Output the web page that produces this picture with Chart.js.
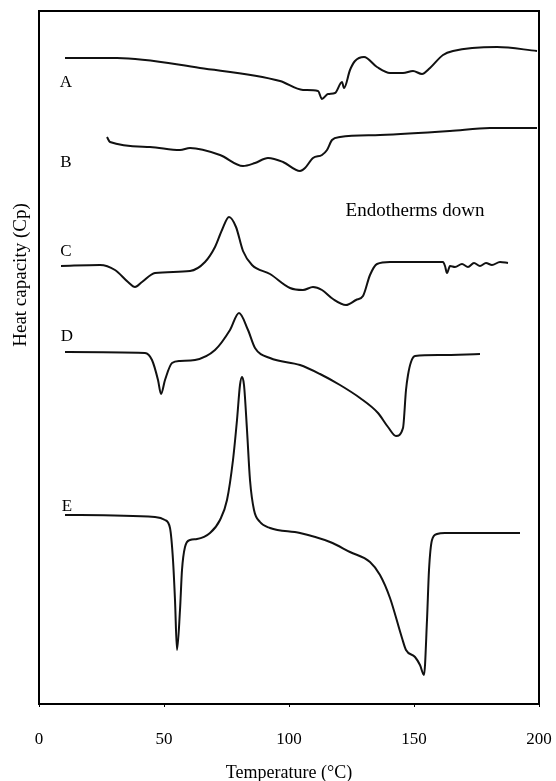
<!DOCTYPE html>
<html>
<head>
    <title>DSC curves</title>
    <script src="https://cdn.jsdelivr.net/npm/chart.js"></script>
    <style>
        body { margin: 0; background: #fff; }
    </style>
</head>
<body>
    <canvas id="chart" width="556" height="781"></canvas>

    <script>
        // temperatures (°C) and heat capacity (arbitrary, curves offset)
        const tempA = [10.4, 31.2, 64.4, 96.4, 105.6, 111.6, 113.2, 115.6, 118.4, 121.2, 122.0, 124.4, 126.4, 130.0, 135.2, 140.4, 145.6, 149.6, 153.2, 156.4, 161.6, 165.6, 183.2, 199.2];
        const cpA   = [646, 646, 636, 623, 614, 613, 605, 610, 611, 622, 616, 634, 643, 647, 637, 631, 631, 633, 630, 636, 649, 653, 657, 653];

        const tempB = [27.2, 28.4, 44.4, 56.4, 60.4, 72.4, 81.6, 86.4, 91.6, 97.6, 104.4, 106.4, 109.6, 113.2, 115.2, 117.2, 120.4, 136.4, 164.4, 180.4, 199.2];
        const cpB   = [567, 562, 557, 554, 556, 549, 538, 541, 546, 542, 533, 536, 546, 549, 554, 564, 567, 569, 573, 576, 576];

        const tempC = [8.8, 24.4, 30.4, 35.6, 38.4, 41.2, 46.4, 60.4, 66.4, 70.4, 73.2, 76.0, 78.8, 81.6, 85.2, 92.4, 100.4, 105.6, 109.6, 113.2, 117.6, 122.8, 126.8, 129.6, 132.4, 135.2, 140.4, 161.6, 162.4, 163.2, 164.4, 166.4, 169.2, 171.6, 174.0, 176.4, 178.8, 181.2, 184.4, 187.6];
        const cpC   = [438, 439, 434, 422, 417, 422, 431, 433, 442, 457, 474, 487, 477, 453, 439, 430, 416, 414, 417, 414, 405, 399, 404, 408, 429, 440, 442, 442, 438, 431, 438, 437, 440, 437, 441, 438, 441, 439, 442, 441];

        const tempD = [10.4, 42.4, 45.2, 47.6, 48.8, 50.4, 53.2, 56.4, 62.4, 70.4, 76.4, 80.0, 83.6, 86.4, 92.4, 104.4, 112.4, 120.4, 128.4, 135.6, 139.6, 142.8, 145.6, 146.8, 147.6, 148.8, 150.4, 160.4, 176.4];
        const cpD   = [352, 351, 344, 324, 310, 324, 341, 343, 344, 354, 374, 391, 374, 356, 346, 339, 330, 319, 306, 291, 277, 268, 276, 314, 329, 342, 348, 349, 350];

        const tempE = [10.4, 46.4, 50.4, 52.4, 53.6, 54.4, 55.2, 56.4, 57.2, 58.4, 60.4, 63.2, 68.4, 72.4, 75.2, 77.6, 79.2, 80.4, 81.2, 82.0, 83.2, 84.4, 86.0, 88.4, 92.4, 104.4, 116.4, 124.4, 132.4, 136.4, 140.4, 145.2, 146.8, 150.4, 152.4, 154.0, 155.2, 156.0, 157.2, 159.2, 162.4, 192.4];
        const cpE   = [189, 187, 184, 176, 144, 104, 54, 94, 134, 157, 164, 165, 171, 184, 204, 244, 284, 319, 327, 319, 274, 224, 194, 182, 176, 171, 162, 152, 142, 129, 106, 66, 54, 47, 39, 29, 84, 134, 164, 170, 171, 171];

        const curveNames = ['A', 'B', 'C', 'D', 'E'];
        const curveTemps = [tempA, tempB, tempC, tempD, tempE];
        const curveCps = [cpA, cpB, cpC, cpD, cpE];
        // where each letter sits, in data units (temp, cp)
        const labelTemps = [10.8, 10.8, 10.8, 11.2, 11.2];
        const labelCps = [621, 541, 452, 367, 197];

        const xTicks = [0, 50, 100, 150, 200];

        const serif = '"Liberation Serif", "Times New Roman", Times, serif';

        const datasets = curveNames.map((name, i) => ({
            label: name,
            data: curveTemps[i].map((t, j) => ({ x: t, y: curveCps[i][j] })),
            borderColor: '#111',
            borderWidth: 2,
            pointRadius: 0,
            fill: false,
            cubicInterpolationMode: 'monotone'
        }));

        // box around plot + letters + notes
        const extras = {
            id: 'extras',
            afterDraw(chart) {
                const { ctx, chartArea: a, scales } = chart;
                ctx.save();
                ctx.strokeStyle = '#000';
                ctx.lineWidth = 2;
                ctx.strokeRect(a.left, a.top, a.right - a.left, a.bottom - a.top);

                ctx.fillStyle = '#000';
                ctx.font = '17px ' + serif;
                ctx.textAlign = 'center';
                ctx.textBaseline = 'middle';
                curveNames.forEach((n, i) => {
                    ctx.fillText(n, scales.x.getPixelForValue(labelTemps[i]), scales.y.getPixelForValue(labelCps[i]));
                });
                ctx.font = '19px ' + serif;
                ctx.fillText('Endotherms down', scales.x.getPixelForValue(150.4), scales.y.getPixelForValue(493));

                ctx.font = '19px ' + serif;
                ctx.translate(a.left - 18, scales.y.getPixelForValue(429));
                ctx.rotate(-Math.PI / 2);
                ctx.fillText('Heat capacity (Cp)', 0, 0);
                ctx.restore();
            }
        };

        const ctx = document.getElementById('chart').getContext('2d');
        new Chart(ctx, {
            type: 'line',
            data: { datasets: datasets },
            options: {
                responsive: false,
                animation: false,
                layout: { padding: { left: 39, right: 17, top: 11, bottom: 0 } },
                plugins: {
                    legend: { display: false },
                    tooltip: { enabled: false }
                },
                scales: {
                    x: {
                        type: 'linear',
                        min: 0,
                        max: 200,
                        afterBuildTicks: (s) => { s.ticks = xTicks.map(v => ({ value: v })); },
                        afterFit: (s) => { s.height = 77; s.paddingLeft = 0; s.paddingRight = 0; },
                        grid: { drawOnChartArea: false, tickLength: 3, color: '#000' },
                        border: { display: false },
                        ticks: { color: '#000', padding: 22, font: { family: serif, size: 17 } },
                        title: {
                            display: true,
                            text: 'Temperature (°C)',
                            color: '#000',
                            padding: { top: 0, bottom: -3 },
                            font: { family: serif, size: 18 }
                        }
                    },
                    y: {
                        display: false,
                        min: 0,
                        max: 693
                    }
                }
            },
            plugins: [extras]
        });
    </script>
</body>
</html>
